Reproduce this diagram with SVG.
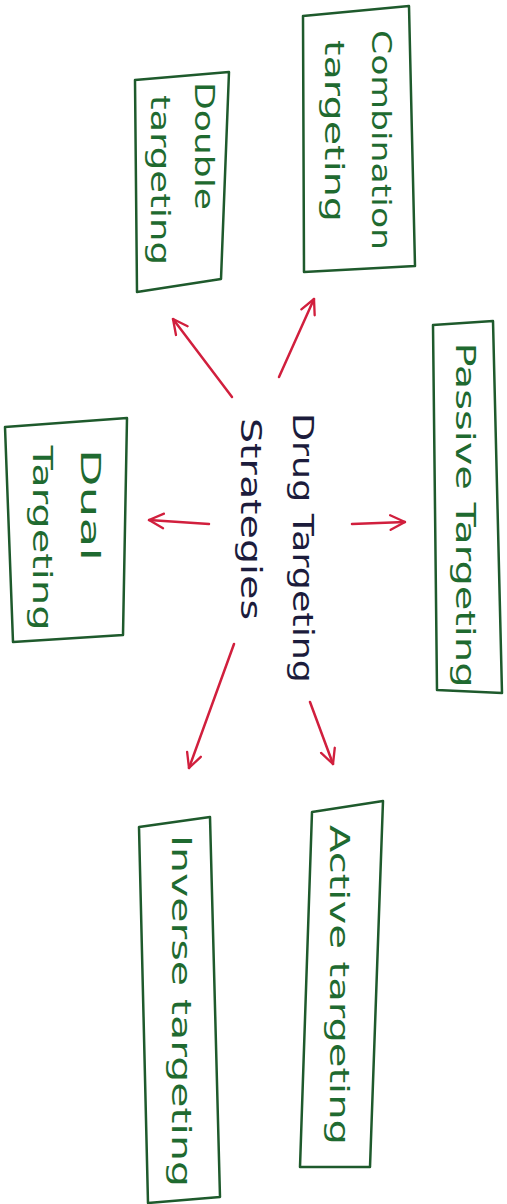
<svg xmlns="http://www.w3.org/2000/svg" width="507" height="1204" viewBox="0 0 507 1204">
<defs>
<style>
.box{fill:none;stroke:#1e5a2c;stroke-width:2.5;stroke-linejoin:round}
.lbl{font-family:"DejaVu Sans","Liberation Sans",sans-serif;font-size:27px;fill:#1f6a30;text-anchor:middle;dominant-baseline:central}
.ctr{font-family:"DejaVu Sans","Liberation Sans",sans-serif;font-size:28px;fill:#1c1c3c;text-anchor:middle;dominant-baseline:central}
.arr{fill:none;stroke:#d11f3d;stroke-width:2.5;stroke-linecap:round;marker-end:url(#ah)}
</style>
<marker id="ah" viewBox="0 0 12 12" refX="11" refY="6" markerWidth="7" markerHeight="7" orient="auto" markerUnits="strokeWidth">
<path d="M1,1 L11,6 L1,11" fill="none" stroke="#d11f3d" stroke-width="1.6" stroke-linecap="round" stroke-linejoin="round"/>
</marker>
</defs>
<rect width="507" height="1204" fill="#ffffff"/>
<g id="connectors">
<line class="arr" x1="232" y1="397" x2="173" y2="319"/>
<line class="arr" x1="279" y1="377" x2="314" y2="299"/>
<line class="arr" x1="209" y1="524" x2="149" y2="520"/>
<line class="arr" x1="352" y1="524" x2="405" y2="522"/>
<line class="arr" x1="234" y1="644" x2="189" y2="768"/>
<line class="arr" x1="310" y1="702" x2="333" y2="764"/>
</g>
<g id="center">
<text class="ctr" transform="translate(302,548) rotate(90)" textLength="270" lengthAdjust="spacingAndGlyphs">Drug Targeting</text>
<text class="ctr" transform="translate(250,519) rotate(90)" textLength="202" lengthAdjust="spacingAndGlyphs">Strategies</text>
</g>
<g id="combination">
<polygon class="box" points="303,16 409,6 415,266 304,272"/>
<text class="lbl" transform="translate(381,140) rotate(90)" textLength="220" lengthAdjust="spacingAndGlyphs">Combination</text>
<text class="lbl" transform="translate(334,131) rotate(90)" textLength="182" lengthAdjust="spacingAndGlyphs">targeting</text>
</g>
<g id="double">
<polygon class="box" points="135,80 229,72 221,279 137,292"/>
<text class="lbl" transform="translate(204,146) rotate(90)" textLength="128" lengthAdjust="spacingAndGlyphs">Double</text>
<text class="lbl" transform="translate(160,180) rotate(90)" textLength="170" lengthAdjust="spacingAndGlyphs">targeting</text>
</g>
<g id="passive">
<polygon class="box" points="433,325 493,321 502,693 437,690"/>
<text class="lbl" transform="translate(465,515) rotate(90)" textLength="345" lengthAdjust="spacingAndGlyphs">Passive Targeting</text>
</g>
<g id="dual">
<polygon class="box" points="5,427 127,418 123,635 13,642"/>
<text class="lbl" transform="translate(90,505) rotate(90)" textLength="112" lengthAdjust="spacingAndGlyphs">Dual</text>
<text class="lbl" transform="translate(42,538) rotate(90)" textLength="185" lengthAdjust="spacingAndGlyphs">Targeting</text>
</g>
<g id="active">
<polygon class="box" points="312,812 383,801 370,1167 300,1167"/>
<text class="lbl" transform="translate(339,985) rotate(90)" textLength="320" lengthAdjust="spacingAndGlyphs">Active targeting</text>
</g>
<g id="inverse">
<polygon class="box" points="139,827 210,817 220,1197 148,1203"/>
<text class="lbl" transform="translate(181,1011) rotate(90)" textLength="352" lengthAdjust="spacingAndGlyphs">Inverse targeting</text>
</g>
</svg>
